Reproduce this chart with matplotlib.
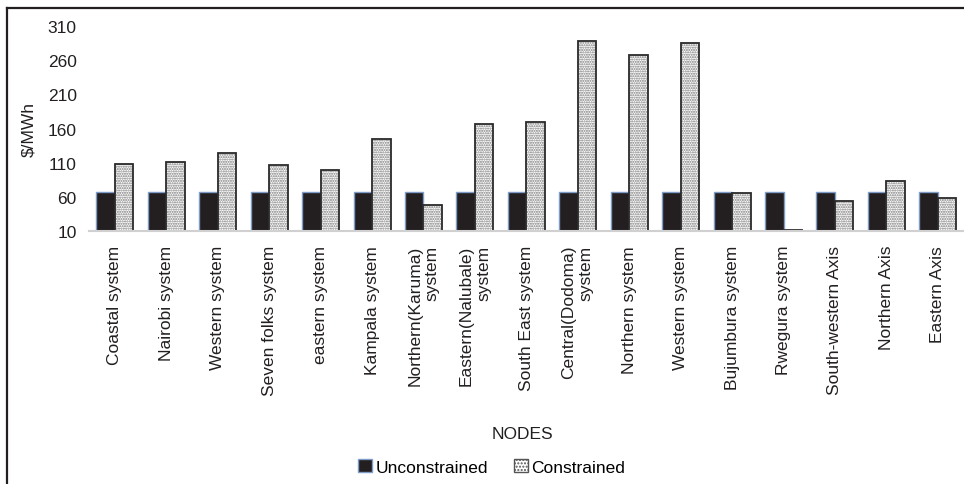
import numpy as np
import matplotlib.pyplot as plt
from matplotlib.patches import Patch
from matplotlib.lines import Line2D

plt.rcParams['font.family'] = ['Liberation Sans', 'DejaVu Sans']

# node names and prices ($/MWh)
nodes = ['Coastal system', 'Nairobi system', 'Western system', 'Seven folks system',
         'eastern system', 'Kampala system', 'Northern(Karuma)\nsystem',
         'Eastern(Nalubale)\nsystem', 'South East system', 'Central(Dodoma)\nsystem',
         'Northern system', 'Western system', 'Bujumbura system', 'Rwegura system',
         'South-western Axis', 'Northern Axis', 'Eastern Axis']
unconstrained = [67, 67, 67, 67, 67, 67, 67, 67, 67, 67, 67, 67, 67, 67, 67, 67, 67]
constrained = [108, 111, 124, 107, 100, 145, 48, 166, 169, 288, 267, 285, 66, 12, 54, 83, 59]
yticks = [10, 60, 110, 160, 210, 260, 310]

fig = plt.figure(figsize=(9.64, 4.85), dpi=100)
ax = fig.add_axes([0.0925, 0.5216, 0.907, 0.4227])

x = np.arange(len(nodes))
w = 0.36
bottom = 10
u = np.array(unconstrained) - bottom
c = np.array(constrained) - bottom

ax.bar(x - w/2, u, w, bottom=bottom, color='#231f20', edgecolor='#7f9cc8', linewidth=1.0)
# dotted fill, then dark outline on top
ax.bar(x + w/2, c, w, bottom=bottom, color='white', edgecolor='#777777', hatch='.......', linewidth=0)
ax.bar(x + w/2, c, w, bottom=bottom, fill=False, edgecolor='#2a2a2a', linewidth=1.3)

ax.set_xlim(-0.5, len(nodes) - 0.5)
ax.set_ylim(10, 310)
ax.set_yticks(yticks)
ax.set_xticks(x)
ax.set_xticklabels(nodes, rotation=90, va='top', ha='center', multialignment='right')
ax.tick_params(axis='both', length=0, labelsize=12.5, colors='#231f20')
ax.tick_params(axis='x', pad=10)
ax.tick_params(axis='y', pad=9)

for s in ['top', 'right', 'left']:
    ax.spines[s].set_visible(False)
ax.spines['bottom'].set_color('#d0d0d0')
ax.spines['bottom'].set_linewidth(1.5)

ax.set_ylabel('$/MWh', fontsize=12.5, color='#231f20', labelpad=8)
fig.text(0.542, 0.105, 'NODES', fontsize=12.5, ha='center', va='center', color='#231f20')

handles = [Patch(facecolor='#231f20', edgecolor='#7f9cc8', linewidth=1.0),
           Patch(facecolor='white', edgecolor='#555555', hatch='.....', linewidth=1.0)]
fig.legend(handles, ['Unconstrained', 'Constrained'], loc='center', bbox_to_anchor=(0.51, 0.035),
           ncol=2, frameon=False, fontsize=12.5, handlelength=0.8, handleheight=0.8,
           handletextpad=0.2, columnspacing=1.5)

# outer chart border (top and left only)
fig.add_artist(Line2D([0.0073, 1.0], [0.9815, 0.9815], color='#231f20', linewidth=1.6))
fig.add_artist(Line2D([0.0073, 0.0073], [0.0, 0.9815], color='#231f20', linewidth=1.6))

fig.savefig('out.png', dpi=100)
